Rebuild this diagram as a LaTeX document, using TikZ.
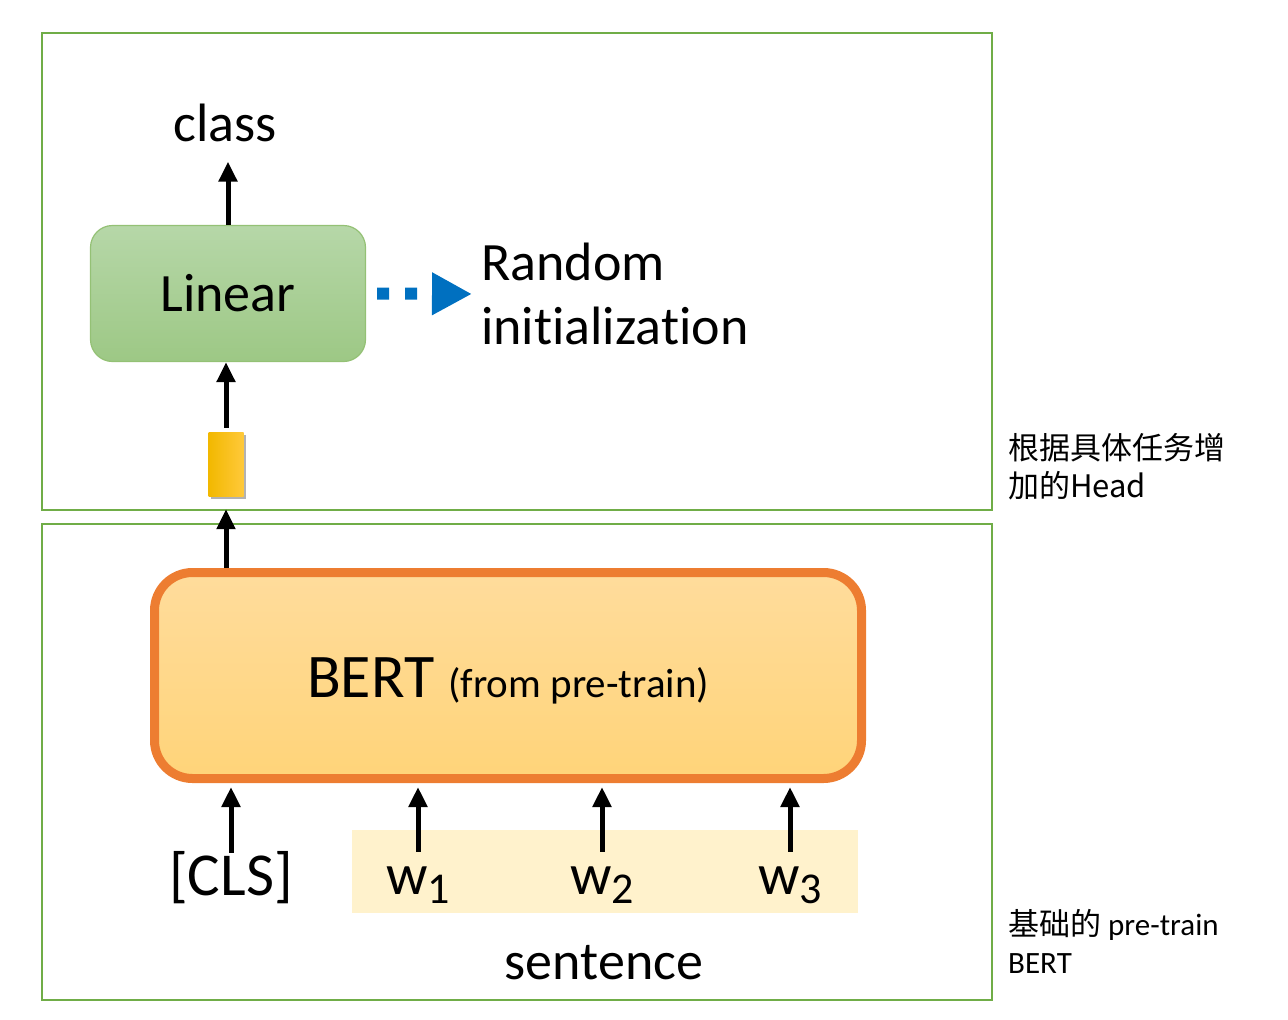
\documentclass[tikz,border=0pt]{standalone}
\usepackage{fontspec}
\setmainfont{Carlito}[Ligatures=NoCommon]
\newfontfamily\cjk{Noto Sans CJK SC}
\usetikzlibrary{arrows.meta,positioning,shadows}
\definecolor{framegreen}{HTML}{70AD47}
\definecolor{linTop}{HTML}{B6D7A8}
\definecolor{linBot}{HTML}{9DC885}
\definecolor{bertorange}{HTML}{ED7D31}
\definecolor{bertTop}{HTML}{FFDC9C}
\definecolor{bertBot}{HTML}{FFD479}
\definecolor{vecLeft}{HTML}{F2B800}
\definecolor{vecRight}{HTML}{FFC93A}
\definecolor{initblue}{HTML}{0070C0}
\definecolor{sentfill}{HTML}{FFF2CC}
\tikzset{
    frame/.style = {draw=framegreen, line width=2pt},
    txt/.style = {font=\fontsize{54}{64}\selectfont},
    linbox/.style = {draw=framegreen!75, line width=1.2pt, rounded corners=22pt,
        top color=linTop, bottom color=linBot,
        minimum width=275pt, minimum height=136pt, txt},
    clsvec/.style = {left color=vecLeft, right color=vecRight,
        minimum width=35pt, minimum height=64pt, inner sep=0pt,
        drop shadow={shadow xshift=2pt, shadow yshift=-3pt, opacity=.3, fill=black}},
    bertbox/.style = {draw=bertorange, line width=9pt, rounded corners=38pt,
        top color=bertTop, bottom color=bertBot,
        minimum width=707pt, minimum height=206pt, font=\fontsize{62}{70}\selectfont},
    token/.style = {font=\fontsize{58}{64}\selectfont, text height=40pt, text depth=10pt,
        inner sep=2pt, anchor=base},
    arrow/.style = {draw, line width=5pt, -{Triangle[length=20pt,width=18pt]}},
    initarrow/.style = {draw=initblue, line width=12pt, dash pattern=on 12pt off 16pt,
        -{Triangle[length=40pt,width=40pt]}},
    note/.style = {align=left, anchor=north west, inner sep=0pt, font=\fontsize{31}{38}\selectfont}
}
\newcommand{\wsub}[1]{w\raisebox{-9pt}{\fontsize{44}{44}\selectfont #1}}

\begin{document}
\begin{tikzpicture}[x=1pt, y=-1pt]
    \useasboundingbox (0,0) rectangle (1288,1020);
    % the two frames
    \draw[frame] (42,33) rectangle (992,510);
    \draw[frame] (42,524) rectangle (992,1000);
    % head
    \node[linbox] (linear) at (228,293.5) {Linear};
    \node[txt, anchor=base, inner sep=0pt] (class) at (225,141) {class};
    \node[txt, align=left, anchor=west, inner sep=5pt] (rand) at (476,294) {Random\\initialization};
    \node[clsvec] (cvec) at (226,464) {};
    % pre-train bert
    \node[bertbox] (bert) at (508,675.5) {\raisebox{-22pt}[0pt][0pt]{BERT {\fontsize{41}{48}\selectfont (from pre-train)}}};
    \node[fill=sentfill, minimum width=506pt, minimum height=83pt, inner sep=0pt] (sentband) at (605,871.5) {};
    \node[token, font=\fontsize{61}{64}\selectfont] (cls) at (231,895) {[CLS]};
    \foreach \i/\x in {1/418,2/602,3/790}{
        \node[token] (w\i) at (\x,894) {\wsub{\i}};
    }
    \node[txt, anchor=base] (sent) at (604,979) {sentence};
    % arrows
    \foreach \t in {cls,w1,w2,w3}{
        \draw[arrow, shorten >=4pt] (\t.north) -- (\t.north |- bert.south);
    }
    \draw[arrow, shorten >=13pt] (bert.north -| cvec) -- (cvec.south);
    \draw[arrow, shorten <=4pt] (cvec.north) -- (cvec.north |- linear.south);
    \draw[arrow, shorten >=20pt] (linear.north) -- (linear.north |- class.south);
    \draw[initarrow, shorten <=11pt, shorten >=4pt] (linear.east) -- (rand.west);
    % notes
    \node[note] (headnote) at (1008,433) {\cjk 根据具体任务增\\\cjk 加的Head};
    \node[note] (basenote) at (1008,909) {{\cjk 基础的} pre-train\\BERT};
\end{tikzpicture}
\end{document}
